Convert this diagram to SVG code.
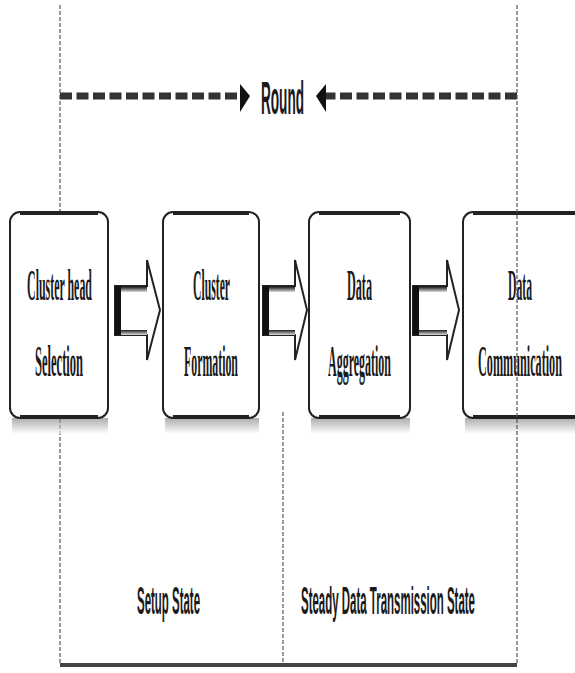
<svg xmlns="http://www.w3.org/2000/svg" width="575" height="673" viewBox="0 0 575 673">
<style>
.guide{stroke:#555;stroke-width:1.2;stroke-dasharray:4 2;fill:none}
.box{fill:#fff;stroke:#222;stroke-width:2}
.boxtop{stroke:#222;stroke-width:4}
.bt{font-family:"Liberation Serif",serif;font-size:44px;font-weight:bold;fill:#1a1a1a;text-anchor:middle}
.st{font-family:"Liberation Sans",sans-serif;font-weight:bold;fill:#1a1a1a;text-anchor:middle}
.barrow{fill:#fff;stroke:#222;stroke-width:2}
.round{stroke:#333;stroke-width:7;stroke-dasharray:12 4.5;fill:none}
</style>
<defs>
<linearGradient id="sh" x1="0" y1="0" x2="0" y2="1">
<stop offset="0" stop-color="#777"/>
<stop offset="1" stop-color="#fff"/>
</linearGradient>
<linearGradient id="bar" x1="0" y1="0" x2="0" y2="1">
<stop offset="0" stop-color="#222"/>
<stop offset="1" stop-color="#ddd"/>
</linearGradient>
</defs>
<rect width="575" height="673" fill="#fff"/>
<g id="guides">
<line class="guide" x1="60" y1="5" x2="60" y2="665"/>
<line class="guide" x1="283" y1="412" x2="283" y2="665"/>
<line x1="60" y1="665" x2="517" y2="665" stroke="#444" stroke-width="4"/>
</g>
<g id="round">
<line class="round" x1="60" y1="96" x2="241" y2="96"/>
<polygon points="240,84 250,96 240,112" fill="#111"/>
<line class="round" x1="517" y1="96" x2="325" y2="96"/>
<polygon points="326,84 316,96 326,112" fill="#111"/>
<text class="st" transform="translate(282.5,114) scale(0.295,1)" style="font-size:46px" textLength="146" lengthAdjust="spacingAndGlyphs">Round</text>
</g>
<g id="n1">
<rect x="12" y="418" width="96" height="16" fill="url(#sh)" opacity="0.6"/>
<rect class="box" x="10" y="212" width="98" height="206" rx="10"/>
<line class="boxtop" x1="20" y1="213" x2="98" y2="213"/>
<line class="boxtop" x1="20" y1="417" x2="98" y2="417"/>
<text class="bt" transform="translate(59.5,300) scale(0.275,1)" textLength="236" lengthAdjust="spacingAndGlyphs">Cluster head</text>
<text class="bt" transform="translate(59,376) scale(0.275,1)" textLength="175" lengthAdjust="spacingAndGlyphs">Selection</text>
</g>
<g id="n2">
<rect x="165" y="418" width="94" height="16" fill="url(#sh)" opacity="0.6"/>
<rect class="box" x="163" y="212" width="96" height="206" rx="10"/>
<line class="boxtop" x1="173" y1="213" x2="249" y2="213"/>
<line class="boxtop" x1="173" y1="417" x2="249" y2="417"/>
<text class="bt" transform="translate(211.5,300) scale(0.275,1)" textLength="135" lengthAdjust="spacingAndGlyphs">Cluster</text>
<text class="bt" transform="translate(211,376) scale(0.275,1)" textLength="196" lengthAdjust="spacingAndGlyphs">Formation</text>
</g>
<g id="n3">
<rect x="311" y="418" width="99" height="16" fill="url(#sh)" opacity="0.6"/>
<rect class="box" x="309" y="212" width="101" height="206" rx="10"/>
<line class="boxtop" x1="319" y1="213" x2="400" y2="213"/>
<line class="boxtop" x1="319" y1="417" x2="400" y2="417"/>
<text class="bt" transform="translate(359.5,300) scale(0.275,1)" textLength="91" lengthAdjust="spacingAndGlyphs">Data</text>
<text class="bt" transform="translate(359.5,376) scale(0.275,1)" textLength="229" lengthAdjust="spacingAndGlyphs">Aggregation</text>
</g>
<g id="n4">
<rect x="465" y="418" width="120" height="16" fill="url(#sh)" opacity="0.6"/>
<rect class="box" x="463" y="212" width="130" height="206" rx="10"/>
<line class="boxtop" x1="473" y1="213" x2="580" y2="213"/>
<line class="boxtop" x1="473" y1="417" x2="580" y2="417"/>
<text class="bt" transform="translate(520,300) scale(0.275,1)" textLength="87" lengthAdjust="spacingAndGlyphs">Data</text>
<text class="bt" transform="translate(520,376) scale(0.275,1)" textLength="305" lengthAdjust="spacingAndGlyphs">Communication</text>
</g>
<line class="guide" x1="517" y1="5" x2="517" y2="665"/>
<g id="connectors">
<g id="a1">
<polygon class="barrow" points="115,286 147,286 147,260 160,310 147,360 147,335 115,335"/>
<rect x="115" y="286" width="6" height="49" fill="#111"/>
<rect x="121" y="287" width="26" height="5" fill="url(#bar)"/>
<rect x="121" y="330" width="26" height="5" fill="url(#bar)"/>
</g>
<g id="a2">
<polygon class="barrow" points="263,286 295,286 295,260 307,310 295,360 295,335 263,335"/>
<rect x="263" y="286" width="6" height="49" fill="#111"/>
<rect x="269" y="287" width="26" height="5" fill="url(#bar)"/>
<rect x="269" y="330" width="26" height="5" fill="url(#bar)"/>
</g>
<g id="a3">
<polygon class="barrow" points="413,286 447,286 447,260 459,310 447,360 447,335 413,335"/>
<rect x="413" y="286" width="6" height="49" fill="#111"/>
<rect x="419" y="287" width="28" height="5" fill="url(#bar)"/>
<rect x="419" y="330" width="28" height="5" fill="url(#bar)"/>
</g>
</g>
<g id="labels">
<text class="st" transform="translate(168.5,614) scale(0.3,1)" style="font-size:38px" textLength="210" lengthAdjust="spacingAndGlyphs">Setup State</text>
<text class="st" transform="translate(388,614) scale(0.3,1)" style="font-size:38px" textLength="580" lengthAdjust="spacingAndGlyphs">Steady Data Transmission State</text>
</g>
</svg>
